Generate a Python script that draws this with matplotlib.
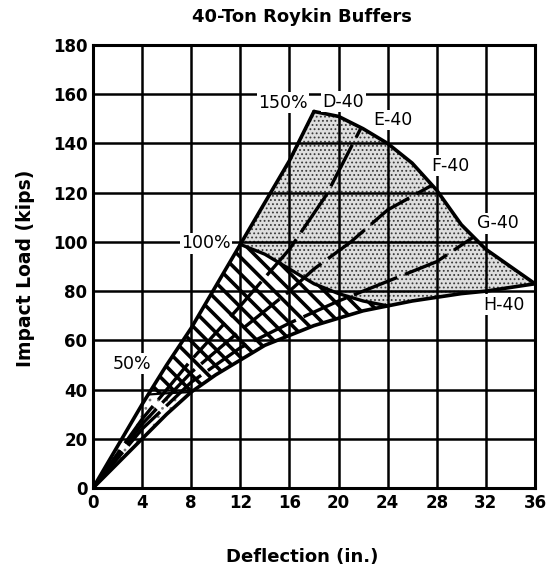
import numpy as np
import matplotlib
matplotlib.use("Agg")
import matplotlib.pyplot as plt

# Load-deflection curves of the buffers (deflection in inches, load in kips)
d40_x = [0, 2, 4, 6, 8, 10, 12, 14, 16, 18]
d40_y = [0, 17, 34, 50, 65, 82, 99, 116, 133, 153]
e40_x = [0, 4, 8, 12, 16, 19, 21.8]
e40_y = [0, 28, 52, 74, 97, 119, 146]
f40_x = [0, 4, 8, 12, 16, 18, 21, 24, 27.6]
f40_y = [0, 26, 47, 64, 80, 89, 100, 113, 123]
g40_x = [0, 4, 8, 12, 16, 20, 24, 28, 31]
g40_y = [0, 24, 43, 57, 67, 76, 84, 92, 102]
h40_x = [0, 2, 4, 6, 8, 10, 12, 14, 16, 18, 20, 22, 24, 26, 28, 30, 32, 34, 36]
h40_y = [0, 10, 20, 30, 39, 46, 52, 58, 62, 66, 69, 72, 74, 76, 77.5, 79, 80, 81.5, 83]

# Capacity limit lines
p150_x = [18, 20, 22, 24, 26, 28, 30, 32, 34, 36]
p150_y = [153, 151, 146, 140, 132, 121, 107, 97, 90, 83]
p100_x = [12, 14, 16, 18, 20, 22, 24]
p100_y = [99, 95, 89, 83, 79, 76, 74]
p50_x = [4.5, 6, 8]
p50_y = [38, 38.5, 39]

x_ticks = list(range(0, 37, 4))
y_ticks = list(range(0, 181, 20))

curve_labels = [("D-40", 20.4, 157), ("E-40", 24.4, 149.5), ("F-40", 29.1, 131),
                ("G-40", 33.0, 107.5), ("H-40", 33.5, 74.5)]
pct_labels = [("150%", 15.5, 156.5), ("100%", 9.2, 99.5), ("50%", 3.2, 50.5)]


def seg(xs, ys, x0, x1, n=80):
    xx = np.linspace(x0, x1, n)
    return list(xx), list(np.interp(xx, xs, ys))


def textured_fill(ax, px, py, face, edge, hatch, hlw):
    with plt.rc_context({"hatch.linewidth": hlw}):
        poly = ax.fill(px, py, facecolor=face, edgecolor=edge, hatch=hatch, lw=0, zorder=1)[0]
        try:
            poly.set_hatch_linewidth(hlw)
        except AttributeError:
            pass
    return poly


fig = plt.figure(figsize=(5.47, 5.81), dpi=100)
ax = fig.add_axes([0.170, 0.160, 0.808, 0.7625])
ax.set_xlim(0, 36)
ax.set_ylim(0, 180)

# Region below the 50% line
dx, dy = seg(d40_x, d40_y, 0, p50_x[0])
hx, hy = seg(h40_x, h40_y, p50_x[-1], 0)
textured_fill(ax, dx + p50_x + hx, dy + p50_y + hy, "white", "#777777", "..", 0.8)

# Region between the 50% and 100% lines (hatched)
dx, dy = seg(d40_x, d40_y, p50_x[0], p100_x[0])
hx, hy = seg(h40_x, h40_y, p100_x[-1], p50_x[-1])
textured_fill(ax, dx + p100_x + hx + p50_x[::-1], dy + p100_y + hy + p50_y[::-1],
              "white", "black", "\\\\", 2.6)

# Region between the 100% and 150% lines (stippled)
dx, dy = seg(d40_x, d40_y, p100_x[0], p150_x[0])
hx, hy = seg(h40_x, h40_y, p150_x[-1], p100_x[-1])
textured_fill(ax, dx + p150_x + hx + p100_x[::-1], dy + p150_y + hy + p100_y[::-1],
              "#dedede", "#3a3a3a", "....", 0.8)

# Grid and frame
ax.set_xticks(x_ticks)
ax.set_yticks(y_ticks)
ax.grid(True, color="black", lw=1.8)
ax.set_axisbelow(False)
for sp in ax.spines.values():
    sp.set_linewidth(2.2)
    sp.set_zorder(5)
ax.tick_params(length=0, pad=4, labelsize=12)
for lab in ax.get_xticklabels() + ax.get_yticklabels():
    lab.set_fontweight("bold")

# Curves
solid = dict(color="black", lw=2.6, solid_capstyle="round", zorder=3)
ax.plot(d40_x, d40_y, **solid)
ax.plot(h40_x, h40_y, **solid)
ax.plot(p150_x, p150_y, **solid)
ax.plot(p100_x, p100_y, color="black", lw=2.4, zorder=3)
ax.plot(p50_x, p50_y, color="black", lw=1.6, zorder=3)
dash = dict(color="black", lw=2.4, ls=(0, (14, 2.5)), zorder=3)
ax.plot(e40_x, e40_y, **dash)
ax.plot(f40_x, f40_y, **dash)
ax.plot(g40_x, g40_y, **dash)

box = dict(facecolor="white", edgecolor="none", pad=1.0)
for txt, x, y in curve_labels + pct_labels:
    ax.text(x, y, txt, ha="center", va="center", fontsize=12.5, bbox=box, zorder=4)

fig.text(0.552, 0.971, "40-Ton Roykin Buffers", ha="center", va="center",
         fontsize=13, fontweight="bold")
fig.text(0.552, 0.041, "Deflection (in.)", ha="center", va="center",
         fontsize=13, fontweight="bold")
fig.text(0.046, 0.539, "Impact Load (kips)", ha="center", va="center",
         rotation=90, fontsize=13.5, fontweight="bold")

fig.savefig("out.png", dpi=100)
